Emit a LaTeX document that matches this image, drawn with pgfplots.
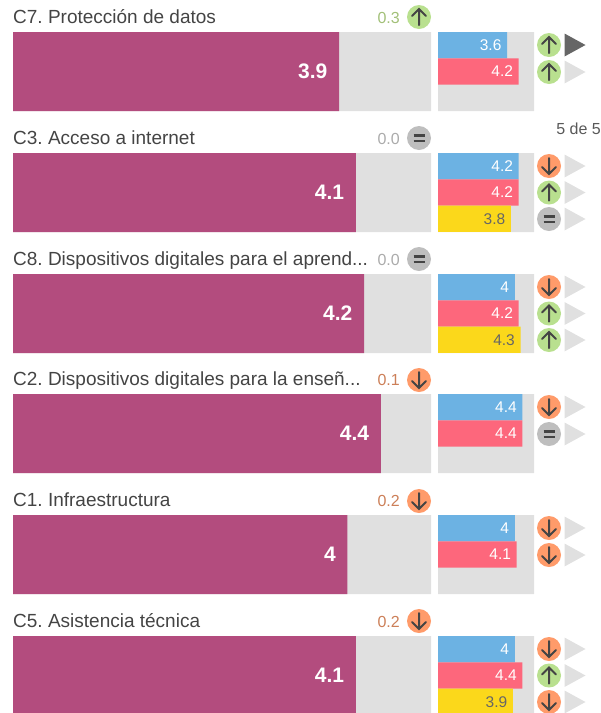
\documentclass[border=0pt]{standalone}
\usepackage{pgfplots}
\pgfplotsset{compat=1.18}
\usepackage{pgfplotstable}
\usepackage{fontspec}
\setmainfont{Liberation Sans}
\definecolor{cmain}{HTML}{B34C7E}
\definecolor{cback}{HTML}{E0E0E0}
\definecolor{cblue}{HTML}{6CB2E3}
\definecolor{cred}{HTML}{FD677C}
\definecolor{cyellow}{HTML}{FBD81B}
\definecolor{ctext}{HTML}{444444}
\definecolor{cgreen}{HTML}{B9E08F}
\definecolor{corange}{HTML}{FF9B6A}
\definecolor{cgrey}{HTML}{BEBEBE}
\definecolor{tgreen}{HTML}{A2C078}
\definecolor{torange}{HTML}{CC7F58}
\definecolor{tgrey}{HTML}{ABABAB}

% y = pixel row in the picture, x = score
\pgfplotstableread{
score y
3.9 71.5
4.1 192.5
4.2 313.5
4.4 433.5
4 554.5
4.1 675.5
}\mainbars
\pgfplotstableread{
score y
5 71.5
5 192.5
5 313.5
5 433.5
5 554.5
5 675.5
}\backbars
\pgfplotstableread{
score y
3.6 45.2
4.2 166.2
4 287.2
4.4 407.2
4 528.2
4 649.2
}\bluebars
\pgfplotstableread{
score y
4.2 71.5
4.2 192.5
4.2 313.5
4.4 433.5
4.1 554.5
4.4 675.5
}\redbars
\pgfplotstableread{
score y
3.8 218.8
4.3 339.8
3.9 701.8
}\yellowbars

% icons, in pixels
\pgfplotstableread{
x y
419 17
549 45
549 72
549 192.5
549 313.5
549 340
549 675.5
}\upicons
\pgfplotstableread{
x y
419 380
419 501
419 621
549 166
549 287
549 407
549 528
549 555
549 649
549 702
}\downicons
\pgfplotstableread{
x y
419 138
419 259
549 219
549 434
}\eqicons
\pgfplotstableread{
x y
575 72
575 166
575 192.5
575 219
575 287
575 313.5
575 340
575 407
575 434
575 528
575 555
575 649
575 675.5
575 702
}\lighttri
\pgfplotstableread{
x y
575 45
}\darktri

\pgfdeclareplotmark{iconup}{%
  \pgfsetfillcolor{cgreen}\pgfpathcircle{\pgfpointorigin}{12pt}\pgfusepathqfill
  \pgfsetstrokecolor{ctext}\pgfsetlinewidth{2pt}\pgfsetroundcap
  \pgfpathmoveto{\pgfqpoint{0pt}{-8pt}}\pgfpathlineto{\pgfqpoint{0pt}{8pt}}
  \pgfpathmoveto{\pgfqpoint{-7pt}{1pt}}\pgfpathlineto{\pgfqpoint{0pt}{8pt}}\pgfpathlineto{\pgfqpoint{7pt}{1pt}}
  \pgfusepathqstroke}
\pgfdeclareplotmark{icondown}{%
  \pgfsetfillcolor{corange}\pgfpathcircle{\pgfpointorigin}{12pt}\pgfusepathqfill
  \pgfsetstrokecolor{ctext}\pgfsetlinewidth{2pt}\pgfsetroundcap
  \pgfpathmoveto{\pgfqpoint{0pt}{8pt}}\pgfpathlineto{\pgfqpoint{0pt}{-8pt}}
  \pgfpathmoveto{\pgfqpoint{-7pt}{-1pt}}\pgfpathlineto{\pgfqpoint{0pt}{-8pt}}\pgfpathlineto{\pgfqpoint{7pt}{-1pt}}
  \pgfusepathqstroke}
\pgfdeclareplotmark{iconeq}{%
  \pgfsetfillcolor{cgrey}\pgfpathcircle{\pgfpointorigin}{12pt}\pgfusepathqfill
  \pgfsetstrokecolor{ctext}\pgfsetlinewidth{2.2pt}
  \pgfpathmoveto{\pgfqpoint{-5.5pt}{2.6pt}}\pgfpathlineto{\pgfqpoint{5.5pt}{2.6pt}}
  \pgfpathmoveto{\pgfqpoint{-5.5pt}{-2.6pt}}\pgfpathlineto{\pgfqpoint{5.5pt}{-2.6pt}}
  \pgfusepathqstroke}
\pgfdeclareplotmark{trilight}{%
  \pgfsetfillcolor{cback}
  \pgfpathmoveto{\pgfqpoint{-10.5pt}{11.5pt}}\pgfpathlineto{\pgfqpoint{10.5pt}{0pt}}\pgfpathlineto{\pgfqpoint{-10.5pt}{-11.5pt}}\pgfpathclose
  \pgfusepathqfill}
\pgfdeclareplotmark{tridark}{%
  \pgfsetfillcolor{black!60}
  \pgfpathmoveto{\pgfqpoint{-10.5pt}{11.5pt}}\pgfpathlineto{\pgfqpoint{10.5pt}{0pt}}\pgfpathlineto{\pgfqpoint{-10.5pt}{-11.5pt}}\pgfpathclose
  \pgfusepathqfill}

\pgfplotsset{
  panel/.style={scale only axis, height=713pt, ymin=0, ymax=713, y dir=reverse,
    axis lines=none, clip=false, anchor=center,
    /pgf/number format/assume math mode=true},
  hbar/.style={xbar, bar shift=0pt, bar width=#1, draw=none, forget plot},
  lab/.style={point meta=x, nodes near coords, nodes near coords style={anchor=east, inner sep=0pt, xshift=-5.5pt, font=\fontsize{15.5}{18}\selectfont, text=#1}},
}

\begin{document}
\frenchspacing
\begin{tikzpicture}
\useasboundingbox (0,0) rectangle (601pt,713pt);
\clip (0,0) rectangle (601pt,713pt);

% main bars
\begin{axis}[panel, at={(222pt,356.5pt)}, width=418pt, xmin=0, xmax=5]
  \addplot[hbar=79pt, fill=cback] table[x=score,y=y] {\backbars};
  \addplot[hbar=79pt, fill=cmain, point meta=x, nodes near coords,
    nodes near coords style={anchor=east, inner sep=0pt, xshift=-11.5pt, text=white, font=\fontsize{21}{24}\selectfont\bfseries}]
    table[x=score,y=y] {\mainbars};
\end{axis}

% small bars
\begin{axis}[panel, at={(486pt,356.5pt)}, width=96pt, xmin=0, xmax=5]
  \addplot[hbar=79pt, fill=cback] table[x=score,y=y] {\backbars};
  \addplot[hbar=26.3pt, fill=cblue, lab=white] table[x=score,y=y] {\bluebars};
  \addplot[hbar=26.3pt, fill=cred, lab=white] table[x=score,y=y] {\redbars};
  \addplot[hbar=26.3pt, fill=cyellow, lab=black!60] table[x=score,y=y] {\yellowbars};
\end{axis}

% icons and text, in pixels
\begin{axis}[panel, at={(300.5pt,356.5pt)}, width=601pt, xmin=0, xmax=601]
  \addplot[only marks, mark=iconup] table[x=x,y=y] {\upicons};
  \addplot[only marks, mark=icondown] table[x=x,y=y] {\downicons};
  \addplot[only marks, mark=iconeq] table[x=x,y=y] {\eqicons};
  \addplot[only marks, mark=trilight] table[x=x,y=y] {\lighttri};
  \addplot[only marks, mark=tridark] table[x=x,y=y] {\darktri};

  \tikzset{ttl/.style={anchor=base west, inner sep=0pt, text=ctext, font=\fontsize{19}{22}\selectfont},
    dlt/.style={anchor=base east, inner sep=0pt, font=\fontsize{16}{19}\selectfont}}
  \node[ttl] at (axis cs:13,23) {C7. Protección de datos};
  \node[ttl] at (axis cs:13,144) {C3. Acceso a internet};
  \node[ttl] at (axis cs:13,265) {C8. Dispositivos digitales para el aprend...};
  \node[ttl] at (axis cs:13,385.5) {C2. Dispositivos digitales para la enseñ...};
  \node[ttl] at (axis cs:13,506) {C1. Infraestructura};
  \node[ttl] at (axis cs:13,627) {C5. Asistencia técnica};
  \node[dlt, text=tgreen] at (axis cs:400,23) {0.3};
  \node[dlt, text=tgrey] at (axis cs:400,144) {0.0};
  \node[dlt, text=tgrey] at (axis cs:400,265) {0.0};
  \node[dlt, text=torange] at (axis cs:400,385.5) {0.1};
  \node[dlt, text=torange] at (axis cs:400,506) {0.2};
  \node[dlt, text=torange] at (axis cs:400,627) {0.2};
  \node[dlt, text=black!65, font=\fontsize{16}{19}\selectfont] at (axis cs:601,134.5) {5 de 5};
\end{axis}
\end{tikzpicture}
\end{document}
